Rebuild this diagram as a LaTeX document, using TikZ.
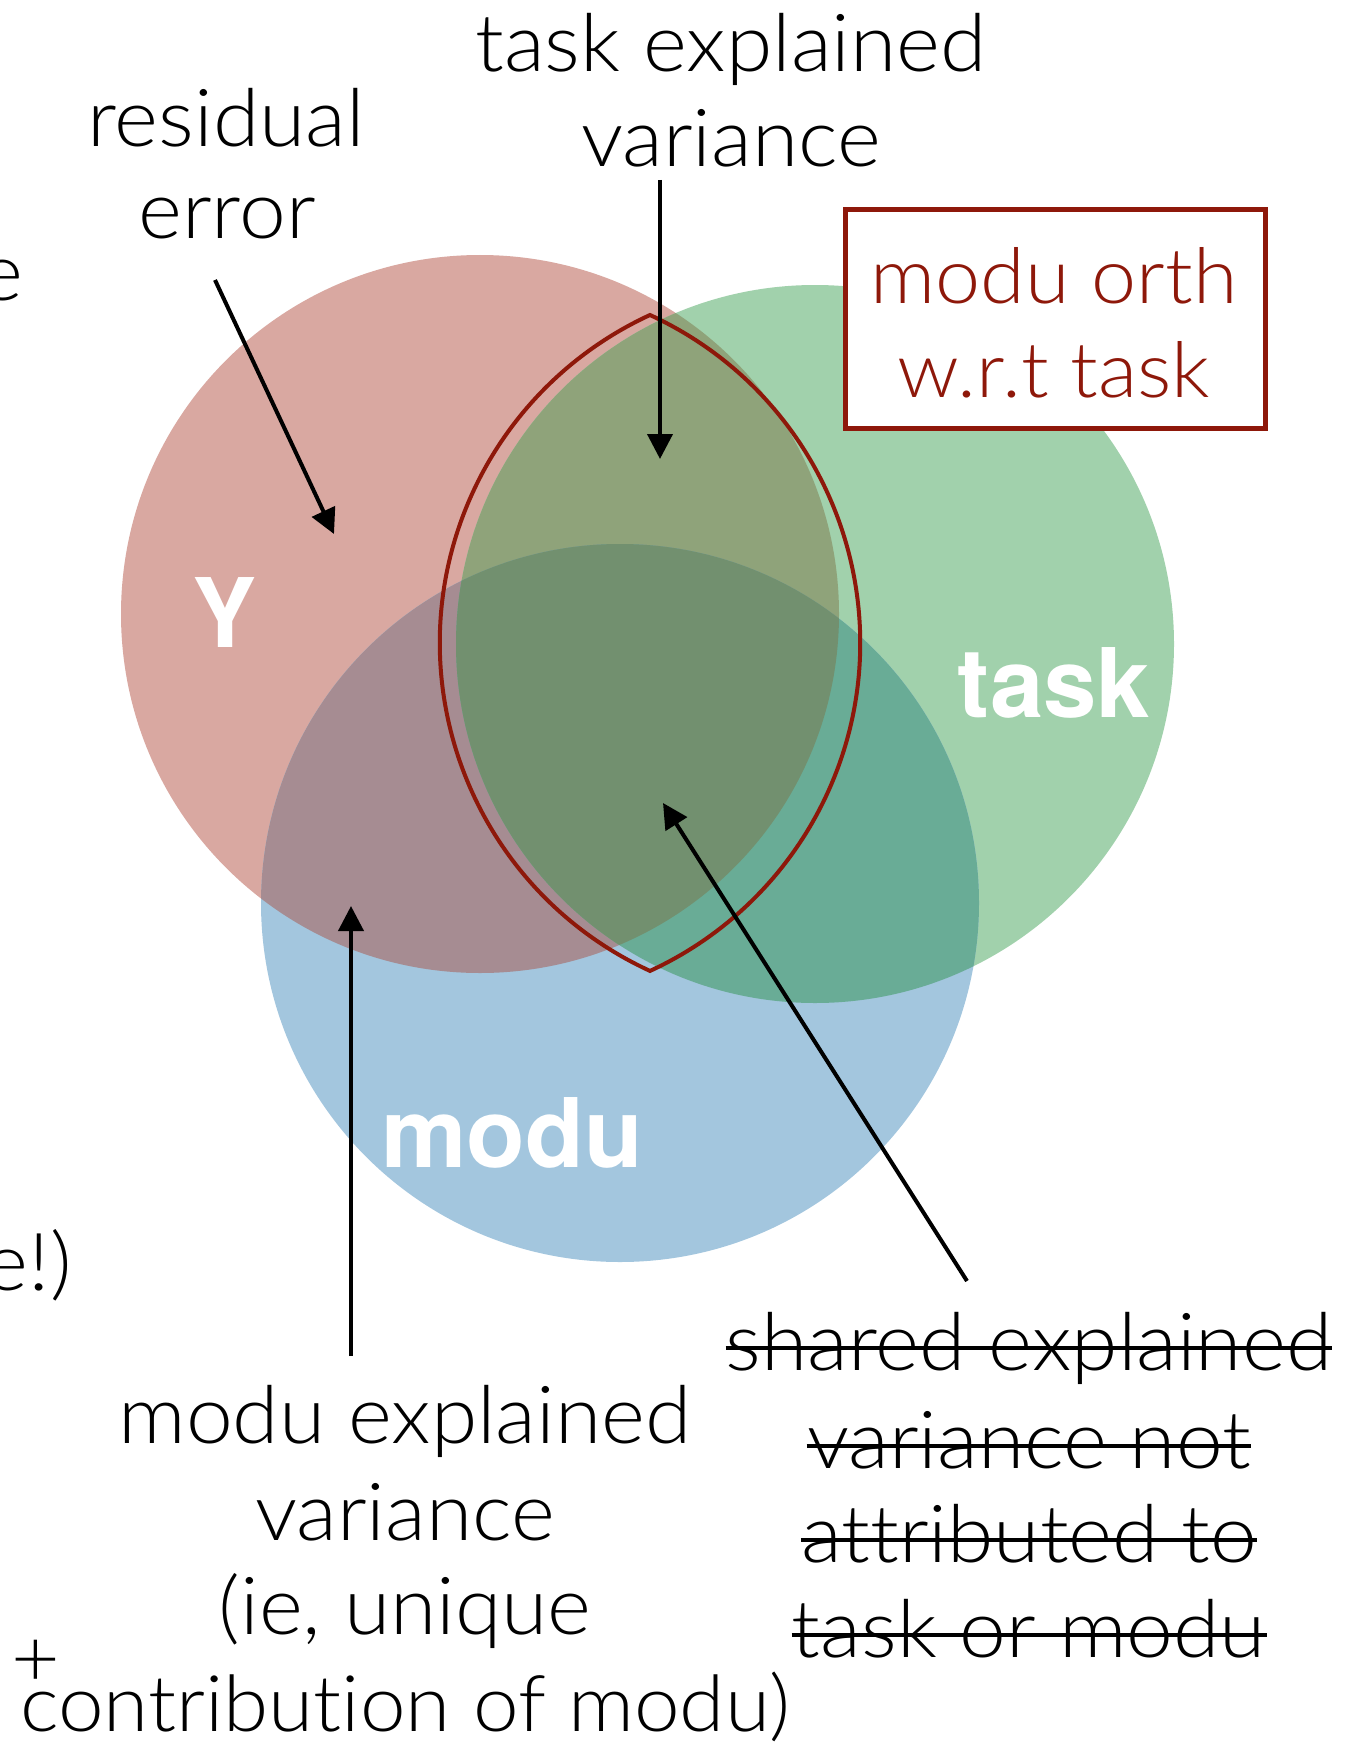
\documentclass[tikz,border=0pt]{standalone}
\usepackage{fontspec}
\setmainfont{Lato}[UprightFont=* Light, BoldFont=* Bold, FakeStretch=1.05, Ligatures=NoCommon]
\newfontfamily\heavy{TeX Gyre Heros}
\usetikzlibrary{arrows.meta}

% fills of the three sets and of their overlaps
\definecolor{setY}{RGB}{217,168,161}
\definecolor{setTask}{RGB}{161,209,172}
\definecolor{setModu}{RGB}{163,198,222}
\definecolor{setYTask}{RGB}{143,163,122}
\definecolor{setYModu}{RGB}{166,140,146}
\definecolor{setTaskModu}{RGB}{105,172,150}
\definecolor{setAll}{RGB}{114,144,111}
\definecolor{orthred}{RGB}{142,24,10}

\begin{document}
\begin{tikzpicture}[x=0.5pt,y=-0.5pt,
  lbl/.style={inner sep=0pt, anchor=base, font=\fontsize{40}{48}\selectfont},
  setname/.style={inner sep=0pt, anchor=base, text=white, font=\heavy\bfseries\fontsize{48}{56}\selectfont},
  ptr/.style={line width=2pt, -{Triangle[length=12.5pt,width=12.5pt]}},
  strikeline/.style={line width=1.6pt},
  lensline/.style={draw=orthred, line width=2pt, line join=miter},
  orthframe/.style={draw=orthred, line width=2.5pt, fill=white, inner sep=0pt}]
\useasboundingbox (0,0) rectangle (1352,1744);

% the three sets
\fill[setY] (480,614) circle[radius=359];
\fill[setTask] (815,644) circle[radius=359];
\fill[setModu] (620,903) circle[radius=359];
\begin{scope}
  \clip (480,614) circle[radius=359];
  \fill[setYTask] (815,644) circle[radius=359];
  \fill[setYModu] (620,903) circle[radius=359];
\end{scope}
\begin{scope}
  \clip (815,644) circle[radius=359];
  \fill[setTaskModu] (620,903) circle[radius=359];
  \clip (480,614) circle[radius=359];
  \fill[setAll] (620,903) circle[radius=359];
\end{scope}

% lens outlining the shared part of Y and task
\draw[lensline] (650,315) arc[start angle=-65.3, end angle=65.3, radius=361]
  arc[start angle=114.7, end angle=245.3, radius=361] -- cycle;

% set names
\node[setname] (nY) at (225,647) {Y};
\node[setname] (nTask) at (1054,717) {task};
\node[setname] (nModu) at (512,1167) {modu};

% boxed note
\node[orthframe, minimum width=210pt, minimum height=109pt] (orthbox) at (1055,319) {};
\node[lbl, text=orthred, font=\fontsize{38.5}{46}\selectfont] (orth1) at (1054,303) {modu orth};
\node[lbl, text=orthred, font=\fontsize{38.5}{46}\selectfont] (orth2) at (1054,397) {w.r.t task};

% labels
\node[lbl] (te1) at (731,72) {task explained};
\node[lbl] (te2) at (731,167) {variance};
\node[lbl] (re1) at (226,147) {residual};
\node[lbl] (re2) at (227,239) {error};
\node[lbl, anchor=base east] (cutA) at (24,300) {e};
\node[lbl, anchor=base east] (cutB) at (72,1290) {e!)};
\node[lbl] (me1) at (405,1443) {modu explained};
\node[lbl] (me2) at (405,1540) {variance};
\node[lbl] (me3) at (405,1634) {(ie, unique};
\node[lbl, font=\fontsize{39}{48}\selectfont] (me4) at (405,1731) {contribution of modu)};
\node[inner sep=0pt, font=\fontsize{40}{48}\selectfont] (plus) at (36,1663) {+};

% struck-out label
\node[lbl] (sh1) at (1029,1370) {shared explained};
\node[lbl] (sh2) at (1029,1468) {variance not};
\node[lbl] (sh3) at (1029,1562) {attributed to};
\node[lbl] (sh4) at (1029,1657) {task or modu};
\foreach \n in {sh1,sh2,sh3,sh4}
  \draw[strikeline] ([yshift=11pt]\n.base west) -- ([yshift=11pt]\n.base east);

% pointers
\coordinate (teFrom) at (660,180);
\coordinate (teTo) at (660,459);
\coordinate (reFrom) at (215,280);
\coordinate (reTo) at (334,534);
\coordinate (meFrom) at (351,1356);
\coordinate (meTo) at (351,906);
\coordinate (shFrom) at (967,1281);
\coordinate (shTo) at (663,803);
\draw[ptr] (teFrom) -- (teTo);
\draw[ptr] (reFrom) -- (reTo);
\draw[ptr] (meFrom) -- (meTo);
\draw[ptr] (shFrom) -- (shTo);
\end{tikzpicture}
\end{document}
